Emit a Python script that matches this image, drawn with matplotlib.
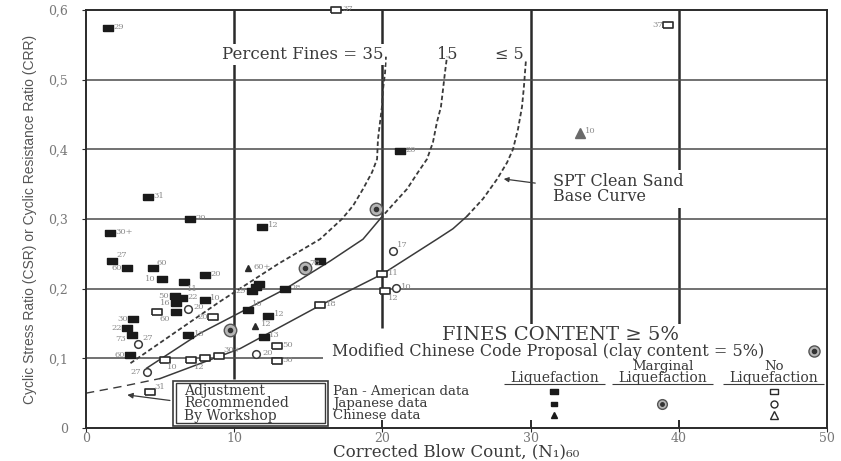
import matplotlib.pyplot as plt
from matplotlib.patches import Rectangle

plt.rcParams['font.family'] = ['DejaVu Serif']

# base curves, (N1)60 against CRR
clean_n = [0.0, 2.5, 5.0, 10.4, 15.8, 20.0, 23.68, 24.76, 25.71, 26.79, 27.73, 28.41, 28.81, 29.15, 29.42, 29.55, 29.62, 29.69]
clean_csr = [0.050, 0.060, 0.071, 0.114, 0.176, 0.221, 0.271, 0.286, 0.304, 0.329, 0.357, 0.381, 0.400, 0.429, 0.461, 0.490, 0.510, 0.529]
f15_n = [4.1, 7.7, 13.4, 16.5, 18.69, 19.84, 20.72, 21.66, 22.40, 23.01, 23.41, 23.68, 23.95, 24.09, 24.22, 24.36]
f15_csr = [0.086, 0.136, 0.199, 0.240, 0.271, 0.300, 0.321, 0.343, 0.367, 0.386, 0.410, 0.439, 0.461, 0.486, 0.510, 0.533]
f35_n = [3.0, 9.0, 13.0, 15.79, 17.27, 18.02, 18.69, 19.30, 19.64, 19.70, 19.84, 19.97, 20.04, 20.18, 20.24]
f35_csr = [0.093, 0.181, 0.236, 0.271, 0.300, 0.319, 0.343, 0.367, 0.386, 0.414, 0.439, 0.461, 0.486, 0.510, 0.533]

# liquefaction, Pan-American / Japanese sites
liq_n = [1.5, 4.2, 7.0, 11.9, 21.2, 1.6, 1.75, 2.8, 4.5, 5.1, 6.6, 8.0, 6.0, 6.5, 6.1, 8.0, 6.1, 3.2, 2.8, 3.1, 3.0, 6.9, 11.2, 11.5, 11.7, 13.4, 10.9, 12.3, 12.0, 15.8]
liq_csr = [0.574, 0.331, 0.300, 0.289, 0.397, 0.280, 0.240, 0.229, 0.229, 0.214, 0.209, 0.219, 0.189, 0.186, 0.179, 0.184, 0.166, 0.157, 0.143, 0.134, 0.105, 0.133, 0.197, 0.203, 0.207, 0.199, 0.170, 0.161, 0.131, 0.240]
liq_lab = ["29", "31", "20", "12", "20", "30+", "27", "60", "60", "10", "11", "20", "50", "22", "16", "10", "", "30", "22", "73", "60", "13", "29", "", "", "28", "10", "12", "13", ""]
liq_side = "rrrrrrululbrlrlrrlldlrlrrrurrr"

# liquefaction, Chinese sites
chl_n = [10.9, 11.4]
chl_csr = [0.229, 0.147]
chl_lab = ["60+", "12"]

# no liquefaction
nsq_n = [16.9, 39.3, 20.0, 20.2, 15.8, 12.9, 12.9, 4.3, 8.6, 4.8, 5.3, 7.1, 8.0, 9.0]
nsq_csr = [0.600, 0.579, 0.221, 0.197, 0.176, 0.117, 0.096, 0.051, 0.160, 0.166, 0.097, 0.097, 0.100, 0.104]
nsq_lab = ["37", "37", "11", "12", "18", "50", "50", "31", "20", "60", "10", "12", "", "30+"]
nsq_side = "rlrbrrrulbbbbu"
nci_n = [20.7, 20.9, 11.5, 4.1, 6.9, 3.5]
nci_csr = [0.254, 0.201, 0.106, 0.081, 0.171, 0.121]
nci_lab = ["17", "10", "20", "27", "20", "27"]
nci_side = "urrlru"
ntr_n = [33.3]
ntr_csr = [0.424]
ntr_lab = ["10"]

# modified Chinese code points
cc_n = [19.6, 9.7, 14.8]
cc_csr = [0.314, 0.140, 0.229]
cc_lab = ["", "", "78"]

ink = '#3a3a3a'
soft = '#8a8a8a'
rect = [(-1, -0.6), (1, -0.6), (1, 0.6), (-1, 0.6), (-1, -0.6)]

fig = plt.figure(figsize=(8.41, 4.61), dpi=100)
ax = fig.add_axes([86 / 841, 33 / 461, 741 / 841, 418 / 461])
ax.set_xlim(0, 50)
ax.set_ylim(0, 0.6)

# grid, drawn by hand since the lines stop short
ax.vlines(10, 0.071, 0.6, color='#2a2a2a', lw=1.8, zorder=1)
ax.vlines([20, 30, 40], 0.143, 0.6, color='#2a2a2a', lw=1.8, zorder=1)
ax.vlines([20, 30, 40], 0, 0.012, color='#2a2a2a', lw=1.4, zorder=1)
ax.hlines([0.2, 0.3, 0.4, 0.5], 0, 50, color='#4a4a4a', lw=1.1, zorder=1)
ax.hlines(0.1, 0, 16, color='#4a4a4a', lw=1.1, zorder=1)

# curves
ax.plot(clean_n[:3], clean_csr[:3], color=ink, lw=1.0, ls=(0, (6, 4)), zorder=2)
ax.plot(clean_n[2:9], clean_csr[2:9], color=ink, lw=1.1, zorder=2)
ax.plot(clean_n[8:], clean_csr[8:], color=ink, lw=1.3, ls=(0, (2.5, 1.5)), zorder=2)
ax.plot(f15_n[:6], f15_csr[:6], color=ink, lw=1.1, zorder=2)
ax.plot(f15_n[5:], f15_csr[5:], color=ink, lw=1.3, ls=(0, (2.5, 1.5)), zorder=2)
ax.plot(f35_n, f35_csr, color=ink, lw=1.3, ls=(0, (2.5, 1.5)), zorder=2)


def tag(xs, ys, labs, sides):
    offs = {'r': (4, 1, 'left', 'center'), 'l': (-4, 0, 'right', 'center'),
            'u': (3, 4, 'left', 'center'), 'b': (2, -5, 'left', 'center'),
            'd': (-4, -3, 'right', 'center')}
    for x, y, s, side in zip(xs, ys, labs, sides):
        if not s:
            continue
        dx, dy, ha, va = offs[side]
        ax.annotate(s, (x, y), xytext=(dx, dy), textcoords='offset points',
                    fontsize=6, color=soft, ha=ha, va=va, zorder=4)


ax.plot(liq_n, liq_csr, ls='none', marker=rect, ms=6.5, color='#1a1a1a', zorder=3)
tag(liq_n, liq_csr, liq_lab, liq_side)
ax.plot(chl_n, chl_csr, ls='none', marker='^', ms=5, color='#2a2a2a', zorder=3)
tag(chl_n, chl_csr, chl_lab, 'rr')
ax.plot(nsq_n, nsq_csr, ls='none', marker=rect, ms=7, mfc='white', mec='#2a2a2a', mew=1.2,
        zorder=3, clip_on=False)
tag(nsq_n, nsq_csr, nsq_lab, nsq_side)
ax.plot(nci_n, nci_csr, ls='none', marker='o', ms=5.5, mfc='white', mec='#3a3a3a', mew=1.1, zorder=3)
tag(nci_n, nci_csr, nci_lab, nci_side)
ax.plot(ntr_n, ntr_csr, ls='none', marker='^', ms=6.5, color='#6a6a6a', zorder=3)
tag(ntr_n, ntr_csr, ntr_lab, 'r')
ax.plot(cc_n, cc_csr, ls='none', marker='o', ms=9, mfc='#b5b5b5', mec='#555555', mew=1.0, zorder=3)
ax.plot(cc_n, cc_csr, ls='none', marker='o', ms=3, color='#333333', zorder=3)
tag(cc_n, cc_csr, cc_lab, 'uuu')

# curve captions
wb = dict(facecolor='white', edgecolor='none', pad=1.5)
ax.text(14.6, 0.536, 'Percent Fines = 35', fontsize=12, color=ink, ha='center', va='center',
        bbox=wb, zorder=5)
ax.text(24.4, 0.536, '15', fontsize=11.5, color=ink, ha='center', va='center', zorder=5)
ax.text(28.6, 0.536, '≤ 5', fontsize=11.5, color=ink, ha='center', va='center', zorder=5)
ax.text(31.5, 0.343, 'SPT Clean Sand\nBase Curve', fontsize=11.5, color=ink, ha='left', va='center',
        linespacing=0.9, bbox=dict(facecolor='white', edgecolor='none', pad=2), zorder=5)
ax.annotate('', xy=(28.0, 0.358), xytext=(30.5, 0.351),
            arrowprops=dict(arrowstyle='-|>', color=ink, lw=0.9, mutation_scale=7), zorder=5)

# legend block
ax.text(32.0, 0.134, 'FINES CONTENT ≥ 5%', fontsize=14, color=ink, ha='center', va='center',
        bbox=wb, zorder=5)
ax.text(16.6, 0.110, 'Modified Chinese Code Proposal (clay content = 5%)', fontsize=11.5, color=ink,
        ha='left', va='center', zorder=5)
ax.plot([49.1], [0.111], marker='o', ms=8, mfc='#b5b5b5', mec='#555555', ls='none', zorder=5)
ax.plot([49.1], [0.111], marker='o', ms=3, color='#333333', ls='none', zorder=5)

col_n = [31.6, 38.9, 46.4]
ax.text(col_n[1], 0.0885, 'Marginal', fontsize=9.5, color=ink, ha='center', va='center')
ax.text(col_n[2], 0.0885, 'No', fontsize=9.5, color=ink, ha='center', va='center')
for cn in col_n:
    ax.text(cn, 0.0715, 'Liquefaction', fontsize=10, color=ink, ha='center', va='center')
    ax.hlines(0.0625, cn - 3.4, cn + 3.4, color=ink, lw=0.8)

row_csr = [0.053, 0.035, 0.018]
row_lab = ['Pan - American data', 'Japanese data', 'Chinese data']
for rc, rl in zip(row_csr, row_lab):
    ax.text(16.7, rc, rl, fontsize=9.5, color=ink, ha='left', va='center')
ax.plot([col_n[0]], [row_csr[0]], marker=rect, ms=6, color='#1a1a1a')
ax.plot([col_n[0]], [row_csr[1]], marker=rect, ms=5, color='#1a1a1a')
ax.plot([col_n[0]], [row_csr[2]], marker='^', ms=4.5, color='#1a1a1a')
ax.plot([col_n[1]], [row_csr[1]], marker='o', ms=7, mfc='#b5b5b5', mec='#555555')
ax.plot([col_n[1]], [row_csr[1]], marker='o', ms=2.5, color='#333333')
ax.plot([col_n[2]], [row_csr[0]], marker=rect, ms=6, mfc='white', mec='#2a2a2a')
ax.plot([col_n[2]], [row_csr[1]], marker='o', ms=5, mfc='white', mec='#2a2a2a')
ax.plot([col_n[2]], [row_csr[2]], marker='^', ms=5.5, mfc='white', mec='#2a2a2a')

# workshop adjustment box
ax.add_patch(Rectangle((5.85, 0.003), 10.5, 0.065, fill=True, fc='white', ec=ink, lw=1.2, zorder=5))
ax.add_patch(Rectangle((6.1, 0.007), 10.0, 0.057, fill=False, ec=ink, lw=1.0, zorder=5))
ax.text(6.6, 0.0355, 'Adjustment\nRecommended\nBy Workshop', fontsize=10, color=ink, ha='left',
        va='center', linespacing=0.88, zorder=6)
ax.annotate('', xy=(2.6, 0.048), xytext=(5.85, 0.039),
            arrowprops=dict(arrowstyle='-|>', color=ink, lw=0.9, mutation_scale=8), zorder=5)

# axes, ticks, labels
for sp in ax.spines.values():
    sp.set_color('#2a2a2a')
    sp.set_linewidth(1.4)
ax.set_xticks([0, 10, 20, 30, 40, 50])
ax.set_xticklabels(['0', '10', '20', '30', '40', '50'])
ax.set_yticks([0, 0.1, 0.2, 0.3, 0.4, 0.5, 0.6])
ax.set_yticklabels(['0', '0,1', '0,2', '0,3', '0,4', '0,5', '0,6'])
ax.tick_params(axis='both', length=3, color='#2a2a2a', labelsize=9, labelcolor='#777777')
ax.tick_params(axis='y', pad=10)
ax.tick_params(axis='x', pad=0)
ax.set_xlabel('Corrected Blow Count, (N₁)₆₀', fontsize=12, color=ink, labelpad=-1)
ax.set_ylabel('Cyclic Stress Ratio (CSR) or Cyclic Resistance Ratio (CRR)', fontsize=10,
              family=['Liberation Sans Narrow', 'Liberation Sans'], color='#555555', labelpad=8)

fig.savefig('out.png', dpi=100)
